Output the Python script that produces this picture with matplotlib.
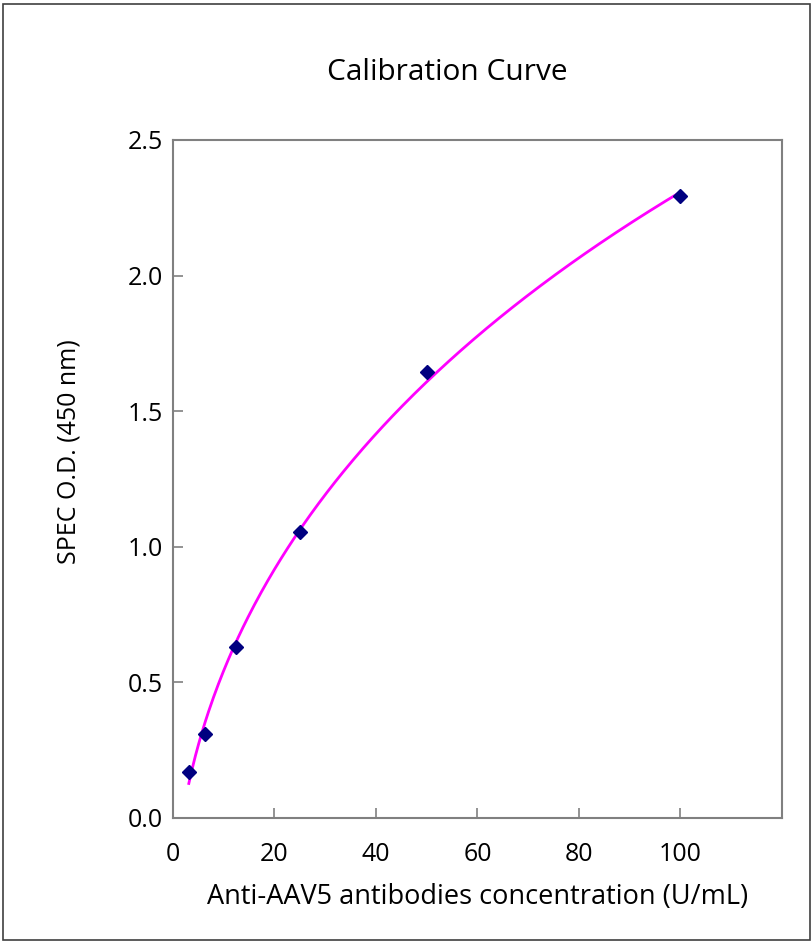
import numpy as np
import matplotlib
matplotlib.use("Agg")
import matplotlib.pyplot as plt
from matplotlib.patches import Rectangle

conc = [3.125, 6.25, 12.5, 25, 50, 100]
od = [0.17, 0.31, 0.63, 1.055, 1.645, 2.295]
xticks = [0, 20, 40, 60, 80, 100]
yticks = [0.0, 0.5, 1.0, 1.5, 2.0, 2.5]

plt.rcParams['font.family'] = ['Open Sans', 'DejaVu Sans']

fig = plt.figure(figsize=(8.12, 9.43), dpi=100)
ax = fig.add_axes([0.213, 0.1326, 0.750, 0.719])

# fitted calibration curve: y = a + b*x + c*sqrt(x), least squares on the data
xc = np.asarray(conc, dtype=float)
A = np.c_[np.ones_like(xc), xc, np.sqrt(xc)]
k = np.linalg.lstsq(A, np.asarray(od), rcond=None)[0]
xf = np.linspace(xc.min(), xc.max(), 300)
yf = k[0] + k[1] * xf + k[2] * np.sqrt(xf)
ax.plot(xf, yf, color='#FF00FF', lw=2, zorder=2)
ax.plot(conc, od, linestyle='none', marker='D', markersize=7.5,
        color='#000080', zorder=3)

ax.set_xlim(0, 120)
ax.set_ylim(0, 2.5)
ax.set_xticks(xticks)
ax.set_yticks(yticks)
ax.set_xticklabels([str(t) for t in xticks])
ax.set_yticklabels([f"{t:.1f}" for t in yticks])
ax.tick_params(direction='in', length=7, width=1.2, color='#808080',
               labelsize=18, colors='black')
ax.tick_params(axis='x', pad=17)
ax.tick_params(axis='y', pad=7)
for s in ax.spines.values():
    s.set_color('#808080')
    s.set_linewidth(1.5)

fig.text(447 / 812, 1 - 72 / 943, 'Calibration Curve', fontsize=21.5,
         ha='center', va='center')
ax.set_xlabel('Anti-AAV5 antibodies concentration (U/mL)', fontsize=19.5, labelpad=12)
ax.set_ylabel('SPEC O.D. (450 nm)', fontsize=18)
ax.yaxis.set_label_coords(82 / 812, 1 - 452 / 943, transform=fig.transFigure)

fig.patches.append(Rectangle((0.004, 0.003), 0.993, 0.993, transform=fig.transFigure,
                             fill=False, edgecolor='#404040', lw=1.2))

fig.savefig('out.png', dpi=100)
